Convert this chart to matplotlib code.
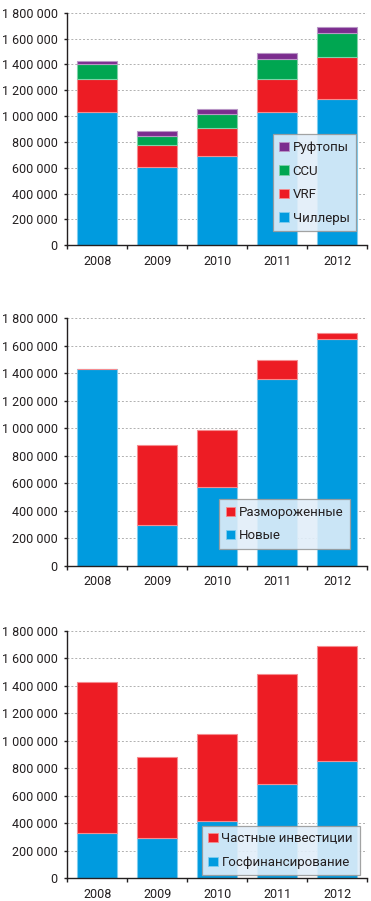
import matplotlib
matplotlib.use("Agg")
import matplotlib.pyplot as plt
from matplotlib.ticker import FuncFormatter, MultipleLocator, FixedLocator
from matplotlib.patches import Patch

plt.rcParams['font.family'] = ['Roboto', 'DejaVu Sans']

years = ["2008", "2009", "2010", "2011", "2012"]

# Chart 1
chillers = [1031000, 606000, 691000, 1029000, 1135000]
vrf = [256000, 170000, 219000, 258000, 322000]
ccu = [113000, 70000, 109000, 154000, 188000]
rooftops = [23000, 36000, 33000, 44000, 41000]

# Chart 2
new_units = [1427000, 296000, 574000, 1354000, 1650000]
unfrozen = [0, 583000, 410000, 138000, 43000]

# Chart 3
state_funding = [330000, 296000, 417000, 687000, 856000]
private_inv = [1097000, 587000, 633000, 800000, 834000]

BLUE = '#009BDF'
RED = '#ED1C24'
GREEN = '#00A651'
PURPLE = '#7B2D8E'
EDGES = {BLUE: '#7FCDEF', RED: '#F58C90', GREEN: '#7FD2A8', PURPLE: '#B996C6'}

W, H = 371, 901
fig = plt.figure(figsize=(W / 100, H / 100), dpi=100)


def fmt(v, pos):
    return "{:,}".format(int(v)).replace(",", " ")


def make_axes(top_px, bottom_px):
    left_px, right_px = 67.3, 367.3
    ax = fig.add_axes([left_px / W, (H - bottom_px) / H,
                       (right_px - left_px) / W, (bottom_px - top_px) / H])
    return ax


def style(ax):
    ax.set_xlim(-0.5, 4.5)
    ax.set_ylim(0, 1800000)
    ax.yaxis.set_major_locator(MultipleLocator(200000))
    ax.yaxis.set_major_formatter(FuncFormatter(fmt))
    ax.set_xticks(range(5))
    ax.set_xticklabels(years)
    ax.xaxis.set_minor_locator(FixedLocator([-0.5, 0.5, 1.5, 2.5, 3.5, 4.5]))
    ax.tick_params(axis='x', which='major', length=0, labelsize=9, pad=7, colors='#231F20')
    ax.tick_params(axis='x', which='minor', length=3, width=1, color='#231F20', direction='out')
    ax.tick_params(axis='y', which='major', length=2, width=1, labelsize=9, pad=5,
                   color='#231F20', labelcolor='#231F20')
    for s in ['top', 'right']:
        ax.spines[s].set_visible(False)
    for s in ['left', 'bottom']:
        ax.spines[s].set_color('#231F20')
        ax.spines[s].set_linewidth(1)
    ax.set_axisbelow(True)
    for v in range(200000, 1800001, 200000):
        ax.axhline(v, color='#B0B0B0', linestyle=(0, (2, 2)), linewidth=0.7, zorder=0)


def stack(ax, series, colors):
    bottom = [0] * 5
    for vals, c in zip(series, colors):
        ax.bar(range(5), vals, width=0.667, bottom=bottom, color=c,
               edgecolor=EDGES[c], linewidth=0.8, zorder=2)
        bottom = [b + v for b, v in zip(bottom, vals)]


def legend(ax, labels, colors, x0, y0):
    handles = [Patch(facecolor=c, edgecolor=EDGES[c], linewidth=0.6) for c in colors]
    lg = ax.legend(handles, labels, loc='upper left', bbox_to_anchor=(x0, y0),
                   fontsize=9.5, handlelength=0.7, handleheight=0.7, handletextpad=0.3,
                   labelspacing=0.8, borderpad=0.5, borderaxespad=0, fancybox=False,
                   framealpha=0.9, facecolor='#E1EEF9', edgecolor='#9A9A9A')
    lg.get_frame().set_linewidth(0.9)
    for t in lg.get_texts():
        t.set_color('#231F20')
    lg.set_zorder(5)


ax1 = make_axes(12.7, 245.3)
style(ax1)
stack(ax1, [chillers, vrf, ccu, rooftops], [BLUE, RED, GREEN, PURPLE])
legend(ax1, ['Руфтопы', 'CCU', 'VRF', 'Чиллеры'], [PURPLE, GREEN, RED, BLUE], 0.685, 0.477)

ax2 = make_axes(318.0, 565.7)
style(ax2)
stack(ax2, [new_units, unfrozen], [BLUE, RED])
legend(ax2, ['Размороженные', 'Новые'], [RED, BLUE], 0.507, 0.268)

ax3 = make_axes(631.0, 878.3)
style(ax3)
stack(ax3, [state_funding, private_inv], [BLUE, RED])
legend(ax3, ['Частные инвестиции', 'Госфинансирование'], [RED, BLUE], 0.448, 0.213)

fig.savefig('out.png', dpi=100)
